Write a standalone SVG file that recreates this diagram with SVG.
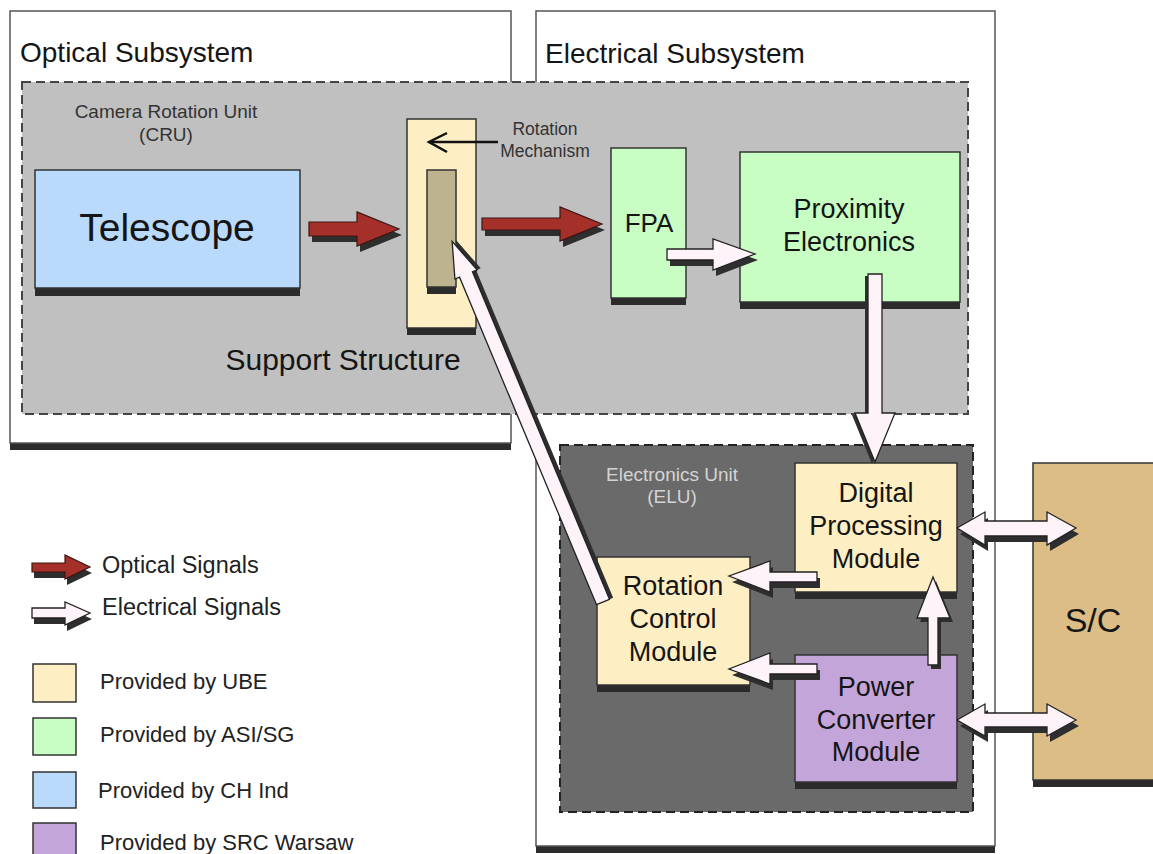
<svg xmlns="http://www.w3.org/2000/svg" xmlns:xlink="http://www.w3.org/1999/xlink" width="1153" height="854" viewBox="0 0 1153 854">
  <style>
    text { font-family: "Liberation Sans", Arial, sans-serif; fill: #151515; }
    .mid { text-anchor: middle; }
    .frame { fill: #ffffff; stroke: #555; stroke-width: 1.5; }
    .shadow { fill: #2b2b2b; }
    .node { stroke: #333; stroke-width: 1.5; }
    .ube { fill: #fdeec4; }
    .asi { fill: #c8fdc4; }
    .chi { fill: #b9dafb; }
    .src { fill: #c4a5da; }
    .sc { fill: #dcbd86; }
    .cru { fill: #c0c0c0; stroke: #444; stroke-width: 2; stroke-dasharray: 9 5; }
    .elu { fill: #6a6a6a; stroke: #222; stroke-width: 2; stroke-dasharray: 9 5; }
    .opt { fill: #a5302a; stroke: #3a1512; stroke-width: 1.2; }
    .ele { fill: #fdf3f8; stroke: #222; stroke-width: 1.3; }
    .ash { fill: #2e2e2e; }
    .title { font-size: 28px; }
    .small { font-size: 19px; fill: #333; }
    .box { font-size: 27px; }
    .legend { font-size: 22px; fill: #222; }
    .pointer { fill: none; stroke: #111; stroke-width: 2.5; }
  </style>
  <defs>
    <path id="a-tel" d="M309,222 L357,222 L357,212 L399,229 L357,246 L357,236 L309,236 Z"/>
    <path id="a-fpa" d="M482,218 L560,218 L560,207 L602,224 L560,241 L560,230 L482,230 Z"/>
    <path id="a-prox" d="M667,249 L713,249 L713,239 L755,254 L713,270 L713,260 L667,260 Z"/>
    <path id="a-down" d="M868,274 L882,274 L882,413 L895,413 L875,462 L855,413 L868,413 Z"/>
    <path id="a-rcm1" d="M817,572 L770,572 L770,561 L729,576 L770,592 L770,582 L817,582 Z"/>
    <path id="a-rcm2" d="M817,664 L770,664 L770,653 L729,669 L770,684 L770,674 L817,674 Z"/>
    <path id="a-up" d="M928,665 L928,618 L917,618 L933,577 L950,618 L938,618 L938,665 Z"/>
    <path id="a-sc1" d="M957,528 L985,512 L985,521 L1047,521 L1047,512 L1076,528 L1047,545 L1047,536 L985,536 L985,545 Z"/>
    <path id="a-sc2" d="M957,720 L985,704 L985,713 L1047,713 L1047,704 L1076,720 L1047,736 L1047,727 L985,727 L985,736 Z"/>
    <path id="a-rot" d="M0,-7 L355,-7 L355,-12 L391,0 L355,12 L355,7 L0,7 Z"/>
    <path id="a-leg-opt" d="M32,563 L65,563 L65,555 L90,567 L65,579 L65,572 L32,572 Z"/>
    <path id="a-leg-ele" d="M32,608 L65,608 L65,602 L90,613 L65,625 L65,618 L32,618 Z"/>
  </defs>

  <rect width="1153" height="854" fill="#ffffff"/>

  <!-- subsystem frames -->
  <g id="optical-subsystem">
    <rect class="shadow" x="10" y="18" width="501" height="432"/>
    <rect class="frame" x="10" y="11" width="501" height="432"/>
    <text class="title" x="20" y="62">Optical Subsystem</text>
  </g>
  <g id="electrical-subsystem">
    <rect class="shadow" x="536" y="18" width="459" height="835"/>
    <rect class="frame" x="536" y="11" width="459" height="835"/>
    <text class="title" x="545" y="63">Electrical Subsystem</text>
  </g>

  <!-- camera rotation unit -->
  <g id="cru">
    <rect class="cru" x="22" y="82" width="946" height="332"/>
    <text class="small mid" x="166" y="118">Camera Rotation Unit</text>
    <text class="small mid" x="166" y="141">(CRU)</text>
  </g>

  <!-- electronics unit -->
  <g id="elu">
    <rect class="elu" x="560" y="445" width="413" height="367"/>
    <text class="small mid" x="672" y="481" style="fill:#d4d4d4">Electronics Unit</text>
    <text class="small mid" x="672" y="503" style="fill:#d4d4d4">(ELU)</text>
  </g>

  <g id="telescope">
    <rect class="shadow" x="35" y="178" width="265" height="118"/>
    <rect class="node chi" x="35" y="170" width="265" height="118"/>
    <text class="mid" x="167" y="241" style="font-size:39px">Telescope</text>
  </g>

  <g id="support-structure">
    <rect class="shadow" x="407" y="126" width="69" height="209"/>
    <rect class="node ube" x="407" y="119" width="69" height="209"/>
    <rect class="shadow" x="427" y="177" width="29" height="117"/>
    <rect class="node" x="427" y="170" width="29" height="117" fill="#bdb38f"/>
    <text class="mid" x="343" y="370" style="font-size:30px">Support Structure</text>
  </g>

  <g id="rotation-mechanism">
    <line class="pointer" x1="498" y1="142" x2="429" y2="142"/>
    <path class="pointer" d="M447,133 L429,142 L447,152"/>
    <text class="mid" x="545" y="135" style="font-size:17.5px;fill:#333">Rotation</text>
    <text class="mid" x="545" y="157" style="font-size:17.5px;fill:#333">Mechanism</text>
  </g>

  <g id="fpa">
    <rect class="shadow" x="611" y="155" width="75" height="150"/>
    <rect class="node asi" x="611" y="148" width="75" height="150"/>
    <text class="mid" x="649" y="232" style="font-size:26px">FPA</text>
  </g>

  <g id="proximity-electronics">
    <rect class="shadow" x="740" y="159" width="220" height="150"/>
    <rect class="node asi" x="740" y="152" width="220" height="150"/>
    <text class="box mid" x="849" y="218">Proximity</text>
    <text class="box mid" x="849" y="251">Electronics</text>
  </g>

  <g id="digital-processing-module">
    <rect class="shadow" x="795" y="470" width="162" height="129"/>
    <rect class="node ube" x="795" y="463" width="162" height="129"/>
    <text class="box mid" x="876" y="502">Digital</text>
    <text class="box mid" x="876" y="535">Processing</text>
    <text class="box mid" x="876" y="568">Module</text>
  </g>

  <g id="rotation-control-module">
    <rect class="shadow" x="597" y="564" width="153" height="128"/>
    <rect class="node ube" x="597" y="557" width="153" height="128"/>
    <text class="box mid" x="673" y="595">Rotation</text>
    <text class="box mid" x="673" y="628">Control</text>
    <text class="box mid" x="673" y="661">Module</text>
  </g>

  <g id="power-converter-module">
    <rect class="shadow" x="795" y="662" width="162" height="127"/>
    <rect class="node src" x="795" y="655" width="162" height="127"/>
    <text class="box mid" x="876" y="696">Power</text>
    <text class="box mid" x="876" y="729">Converter</text>
    <text class="box mid" x="876" y="761">Module</text>
  </g>

  <g id="spacecraft">
    <rect class="shadow" x="1033" y="469" width="130" height="318"/>
    <rect class="node sc" x="1033" y="463" width="130" height="317"/>
    <text class="mid" x="1093" y="632" style="font-size:34px">S/C</text>
  </g>

  <!-- signal connectors -->
  <g id="connectors">
    <use xlink:href="#a-tel" class="ash" transform="translate(3,6)"/>
    <use xlink:href="#a-tel" class="opt"/>
    <use xlink:href="#a-fpa" class="ash" transform="translate(3,6)"/>
    <use xlink:href="#a-fpa" class="opt"/>
    <use xlink:href="#a-prox" class="ash" transform="translate(3,6)"/>
    <use xlink:href="#a-prox" class="ele"/>
    <use xlink:href="#a-down" class="ash" transform="translate(-3,2)"/>
    <use xlink:href="#a-down" class="ele"/>
    <use xlink:href="#a-rcm1" class="ash" transform="translate(3,6)"/>
    <use xlink:href="#a-rcm1" class="ele"/>
    <use xlink:href="#a-rcm2" class="ash" transform="translate(3,6)"/>
    <use xlink:href="#a-rcm2" class="ele"/>
    <use xlink:href="#a-up" class="ash" transform="translate(3,4)"/>
    <use xlink:href="#a-up" class="ele"/>
    <use xlink:href="#a-sc1" class="ash" transform="translate(3,6)"/>
    <use xlink:href="#a-sc1" class="ele"/>
    <use xlink:href="#a-sc2" class="ash" transform="translate(3,6)"/>
    <use xlink:href="#a-sc2" class="ele"/>
    <g transform="translate(603,602) rotate(-112.7)">
      <use xlink:href="#a-rot" class="ash" transform="translate(0,4)"/>
      <use xlink:href="#a-rot" class="ele"/>
    </g>
  </g>

  <!-- legend -->
  <g id="legend">
    <use xlink:href="#a-leg-opt" class="ash" transform="translate(2,6)"/>
    <use xlink:href="#a-leg-opt" class="opt"/>
    <text class="legend" x="102" y="573" style="font-size:23.5px">Optical Signals</text>
    <use xlink:href="#a-leg-ele" class="ash" transform="translate(2,6)"/>
    <use xlink:href="#a-leg-ele" class="ele"/>
    <text class="legend" x="102" y="615" style="font-size:23.5px">Electrical Signals</text>
    <rect class="node ube" x="33" y="664" width="43" height="38"/>
    <text class="legend" x="100" y="689">Provided by UBE</text>
    <rect class="node asi" x="33" y="718" width="43" height="37"/>
    <text class="legend" x="100" y="742">Provided by ASI/SG</text>
    <rect class="node chi" x="33" y="772" width="43" height="36"/>
    <text class="legend" x="98" y="798">Provided by CH Ind</text>
    <rect class="node src" x="33" y="823" width="43" height="36"/>
    <text class="legend" x="100" y="850">Provided by SRC Warsaw</text>
  </g>
</svg>
